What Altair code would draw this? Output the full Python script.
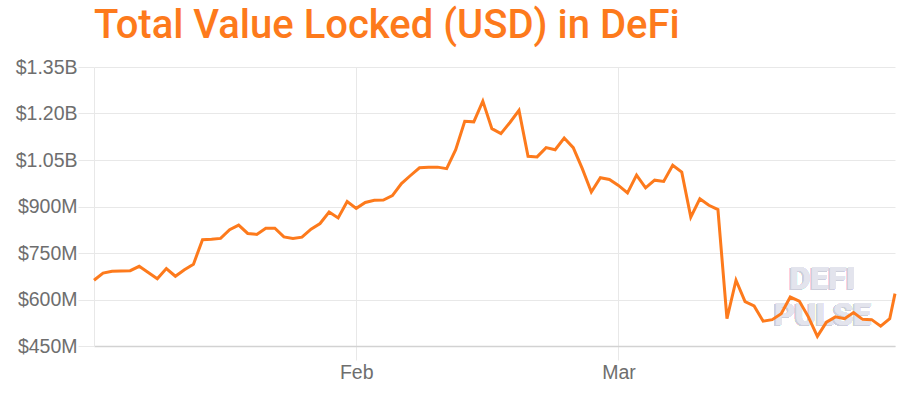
import altair as alt
import pandas as pd

# ---- data (values in millions of USD, one per day from Jan 3, 2020) ----
start_date = "2020-01-03"
last_timestamp = "2020-03-31T14:00:00"
tvl_musd = [
    662, 685, 691, 692, 693, 707, 687, 667, 700, 675,
    696, 714, 793, 794, 797, 825, 840, 813, 810, 830,
    830, 802, 797, 801, 827, 845, 882, 863, 916, 894,
    913, 920, 921, 935, 974, 1000, 1025, 1027, 1027, 1022,
    1083, 1175, 1173, 1240, 1151, 1135, 1171, 1210, 1062, 1060,
    1090, 1083, 1121, 1090, 1022, 947, 993, 987, 968, 944,
    1001, 960, 985, 981, 1033, 1011, 866, 925, 904, 890,
    538, 662, 593, 579, 530, 535, 554, 608, 595, 544,
    481, 527, 544, 538, 558, 536, 535, 514, 538, 619,
]
y_ticks = [450, 600, 750, 900, 1050, 1200, 1350]
title_text = "Total Value Locked (USD) in DeFi"
watermark_lines = ["DEFI", "PULSE"]

dates = list(pd.date_range(start_date, periods=len(tvl_musd) - 1, freq="D")) + [
    pd.Timestamp(last_timestamp)
]
df = pd.DataFrame({"date": dates, "tvl": tvl_musd})

ORANGE = "#fd7a1c"
GRID = "#e8e8e8"
LABEL = "#6e6e6e"

x_enc = alt.X(
    "date:T",
    scale=alt.Scale(nice=False),
    axis=alt.Axis(
        title=None,
        format="%b",
        tickCount=alt.TimeIntervalStep(interval="month", step=1),
        grid=True,
        gridColor=GRID,
        tickColor=GRID,
        tickSize=14,
        labelPadding=3,
        labelFont="Liberation Sans",
        labelFontSize=19.5,
        labelColor=LABEL,
        domainColor="#d2d2d2",
        domainWidth=1.5,
    ),
)
y_enc = alt.Y(
    "tvl:Q",
    scale=alt.Scale(domain=[450, 1350], nice=False, zero=False),
    axis=alt.Axis(
        title=None,
        values=y_ticks,
        labelExpr="datum.value >= 1000 ? '$' + format(datum.value / 1000, '.2f') + 'B' : '$' + datum.value + 'M'",
        grid=True,
        gridColor=GRID,
        tickColor=GRID,
        tickSize=16,
        labelPadding=1,
        labelFont="Liberation Sans",
        labelFontSize=19.5,
        labelColor=LABEL,
        domainColor=GRID,
    ),
)

base = alt.Chart(df)

wm_layers = []
for txt, dval in zip(watermark_lines, [667, 551]):
    for col, dx, dy in [("#cdcfdb", -1.5, 1.5), ("#e3e4ed", 0, 0)]:
        wm_layers.append(
            alt.Chart(df)
            .mark_text(
                text=txt,
                font="Roboto",
                fontWeight="bold",
                fontSize=32,
                color=col,
                dx=dx,
                dy=dy,
                align="center",
                baseline="middle",
            )
            .encode(
                x=alt.XDatum(alt.DateTime(year=2020, month=3, date=23, hours=14), type="temporal"),
                y=alt.YDatum(dval, type="quantitative"),
            )
        )

line = base.mark_line(color=ORANGE, strokeWidth=3).encode(x=x_enc, y=y_enc)

chart = (
    alt.layer(*wm_layers, line)
    .properties(
        width=801,
        height=279,
        autosize=alt.AutoSizeParams(type="none"),
        padding={"left": 94, "top": 67, "right": 5, "bottom": 47},
        title=alt.TitleParams(
            text=title_text,
            anchor="start",
            frame="group",
            font="Roboto",
            fontSize=40,
            fontWeight=500,
            color=ORANGE,
            baseline="alphabetic",
            offset=16,
            dy=37,
        ),
    )
    .configure_view(stroke=None)
)

chart.save("out.html", embed_options={"renderer": "svg", "actions": False})
